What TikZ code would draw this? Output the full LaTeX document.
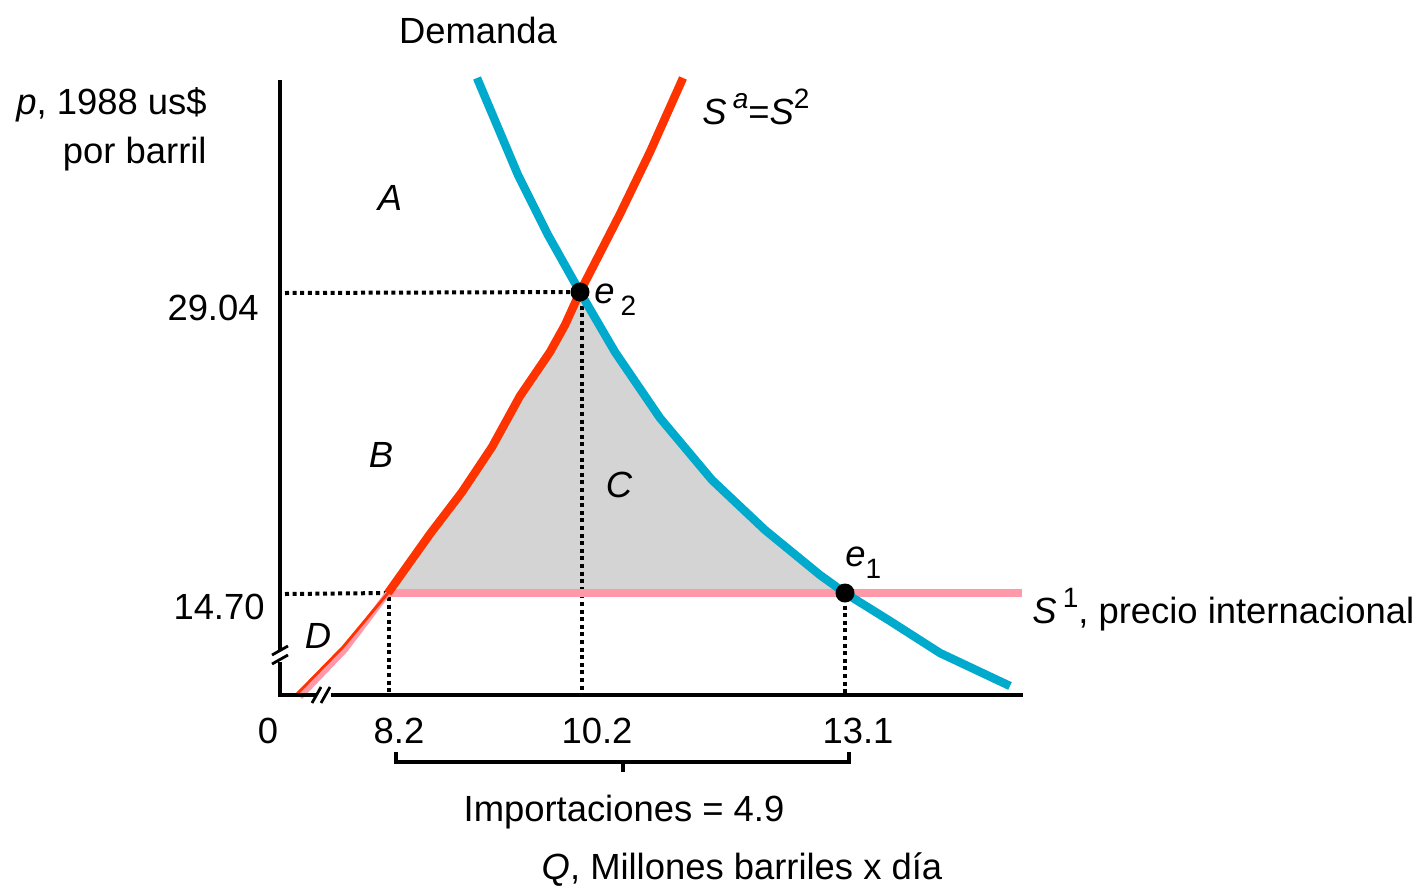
\documentclass[tikz,border=0pt]{standalone}
\usepackage{fontspec}
\setmainfont{Liberation Sans}
\begin{document}
\begin{tikzpicture}[x=0.5pt,y=-0.5pt,
  every node/.style={font=\fontsize{18.2}{22}\selectfont, inner sep=0pt},
  axis/.style={line width=1.8pt},
  dotline/.style={line width=2pt, dash pattern=on 2pt off 1.8pt},
  redc/.style={color=redcol, line width=4.2pt},
  bluec/.style={color=bluecol, line width=4.2pt},
  pinkc/.style={color=pinkcol, line width=4.2pt},
  dot/.style={circle, fill=black, minimum size=9.5pt}]
\definecolor{redcol}{HTML}{FF3300}
\definecolor{bluecol}{HTML}{00AACC}
\definecolor{pinkcol}{HTML}{FF99AA}
\definecolor{graycol}{HTML}{D4D4D4}
\useasboundingbox (0,0) rectangle (1414,889);
% coordinates
\coordinate (O) at (280,695);
\coordinate (ytop) at (280,80);
\coordinate (xend) at (1023,695);
\coordinate (s1L) at (388,593);
\coordinate (s1R) at (1022,593);
\coordinate (e2c) at (580,292);
\coordinate (e1c) at (845,593);
% gray area
\fill[graycol] (s1L) -- (430,534) -- (462,492) -- (492,447) -- (520,396) -- (550,352) -- (565,325) -- (e2c)
  -- (615,352) -- (660,418) -- (712,480) -- (765,530) -- (820,575) -- (e1c) -- cycle;
% dotted lines
\draw[dotline] (285,293) -- (e2c);
\draw[dotline] (285,594) -- (s1L);
\draw[dotline] (389,597) -- (389,695);
\draw[dotline] (582,298) -- (582,695);
\draw[dotline] (845,598) -- (845,695);
% pink lines
\draw[pinkc] (s1L) -- (s1R);
\draw[color=pinkcol, line width=2.8pt] (300,697) -- (345,650) -- (s1L);
% red supply
\draw[color=redcol, line width=1.4pt] (296,695) -- (343,647) -- (s1L);
\draw[redc] (s1L) -- (430,534) -- (462,492) -- (492,447) -- (520,396) -- (550,352) -- (565,325) -- (e2c) -- (620,214) -- (650,152) -- (683,78);
% blue demand
\draw[bluec] (477,78) -- (518,175) -- (548,235) -- (e2c) -- (615,352) -- (660,418) -- (712,480) -- (765,530) -- (820,575) -- (e1c) -- (890,621) -- (940,653) -- (1010,686);
% axes
\draw[axis] (ytop) -- (O) -- (xend);
% axis breaks
\fill[white] (273,650) rectangle (287,662);
\draw[line width=1.4pt] (272,655) -- (288,646);
\draw[line width=1.4pt] (272,664) -- (288,655);
\fill[white] (317,688) rectangle (331,702);
\draw[line width=1.4pt] (312,703) -- (321,687);
\draw[line width=1.4pt] (321,703) -- (330,687);
% dots
\node[dot] (e2) at (e2c) {};
\node[dot] (e1) at (e1c) {};
% labels
\node (dem) at (478,30) {Demanda};
\node[anchor=east] (ylab1) at (207,105) {\textit{p}, 1988 us\$};
\node[anchor=east] (ylab2) at (207,154) {por barril};
\node[anchor=east] (p1) at (259,308) {29.04};
\node[anchor=east] (p2) at (265,607) {14.70};
\node (q0) at (268,731) {0};
\node (q1) at (399,731) {8.2};
\node (q2) at (597,731) {10.2};
\node (q3) at (858,731) {13.1};
\node (lA) at (390,198) {\textit{A}};
\node (lB) at (381,455) {\textit{B}};
\node (lC) at (619,485) {\textit{C}};
\node (lD) at (318,636) {\textit{D}};
\node[anchor=west] (le2) at (594,300) {\textit{e}\,{\fontsize{14}{15}\selectfont\raisebox{-6pt}{2}}};
\node[anchor=west] (le1) at (845,563) {\textit{e}{\fontsize{14}{15}\selectfont\raisebox{-6pt}{1}}};
\node[anchor=west] (lSa) at (702,107) {\textit{S}\,{\fontsize{14}{15}\selectfont\raisebox{8pt}{\textit{a}}}=\textit{S}{\fontsize{14}{15}\selectfont\raisebox{8pt}{2}}};
\node[anchor=west] (lS1) at (1032,610) {\textit{S}\,{\fontsize{14}{15}\selectfont\raisebox{8pt}{1}}, precio internacional};
% bracket
\draw[line width=1.8pt] (396,752) -- (396,762) -- (849,762) -- (849,752);
\draw[line width=1.8pt] (623,762) -- (623,772);
\node (imp) at (624,812) {Importaciones = 4.9};
\node (qlab) at (742,870) {\textit{Q}, Millones barriles x día};
\end{tikzpicture}
\end{document}
